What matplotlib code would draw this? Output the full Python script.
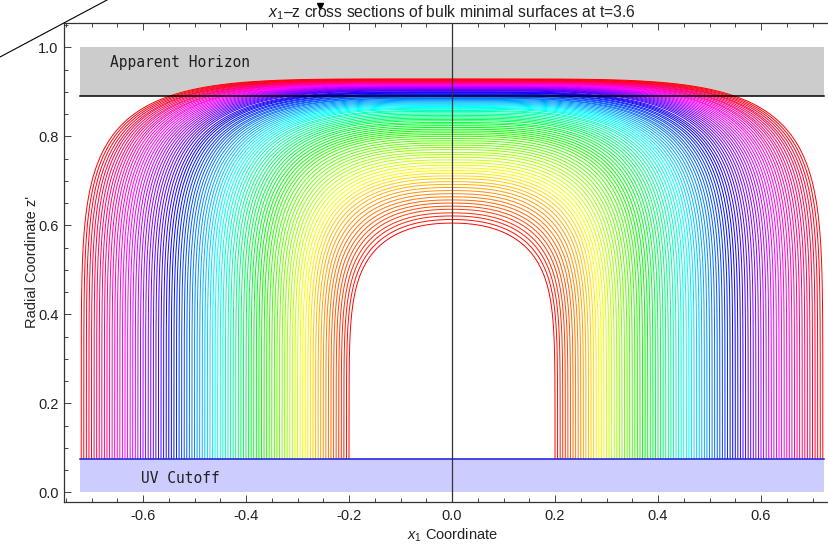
import colorsys
import numpy as np
import matplotlib
matplotlib.use("Agg")
import matplotlib.pyplot as plt
from matplotlib.ticker import MultipleLocator, FormatStrFormatter
from matplotlib.lines import Line2D

plt.rcParams["font.family"] = ["Liberation Sans", "DejaVu Sans"]
plt.rcParams["mathtext.fontset"] = "custom"
plt.rcParams["mathtext.rm"] = "Liberation Sans"
plt.rcParams["mathtext.it"] = "Liberation Sans:italic"

# Half-widths of the boundary strips (x1 extent of each surface at the cutoff)
half_widths = [
    0.200, 0.205, 0.210, 0.215, 0.220, 0.225, 0.230, 0.235, 0.240, 0.245,
    0.250, 0.255, 0.260, 0.265, 0.270, 0.275, 0.280, 0.285, 0.290, 0.295,
    0.300, 0.305, 0.310, 0.315, 0.320, 0.325, 0.330, 0.335, 0.340, 0.345,
    0.350, 0.355, 0.360, 0.365, 0.370, 0.375, 0.380, 0.385, 0.390, 0.395,
    0.400, 0.405, 0.410, 0.415, 0.420, 0.425, 0.430, 0.435, 0.440, 0.445,
    0.450, 0.455, 0.460, 0.465, 0.470, 0.475, 0.480, 0.485, 0.490, 0.495,
    0.500, 0.505, 0.510, 0.515, 0.520, 0.525, 0.530, 0.535, 0.540, 0.545,
    0.550, 0.555, 0.560, 0.565, 0.570, 0.575, 0.580, 0.585, 0.590, 0.595,
    0.600, 0.605, 0.610, 0.615, 0.620, 0.625, 0.630, 0.635, 0.640, 0.645,
    0.650, 0.655, 0.660, 0.665, 0.670, 0.675, 0.680, 0.685, 0.690, 0.695,
    0.700, 0.705, 0.710, 0.715, 0.720,
]

# Turning-point depth z'_* of each surface (value at x1 = 0)
turning_points = [
    0.605, 0.613, 0.621, 0.628, 0.636, 0.643, 0.650, 0.657, 0.664, 0.671,
    0.678, 0.685, 0.692, 0.698, 0.705, 0.711, 0.717, 0.723,
    0.729, 0.735, 0.741, 0.747, 0.753, 0.759, 0.764, 0.770, 0.775, 0.780,
    0.785, 0.790, 0.795, 0.800, 0.804, 0.808, 0.812, 0.816,
    0.820, 0.824, 0.828, 0.831, 0.835, 0.838, 0.841, 0.844, 0.847, 0.850,
    0.853, 0.856, 0.858, 0.861, 0.863, 0.865, 0.867,
    0.869, 0.871, 0.873, 0.875, 0.877, 0.879, 0.881, 0.883, 0.885, 0.886,
    0.888, 0.889, 0.891, 0.892, 0.894, 0.895, 0.897, 0.898,
    0.899, 0.900, 0.902, 0.903, 0.904, 0.905, 0.906, 0.907, 0.908, 0.909,
    0.910, 0.911, 0.912, 0.913, 0.914, 0.915, 0.916,
    0.917, 0.917, 0.918, 0.919, 0.920, 0.920, 0.921, 0.922, 0.922, 0.923,
    0.924, 0.925, 0.925, 0.926, 0.927, 0.928, 0.929,
]
assert len(half_widths) == len(turning_points)

uv_cutoff = 0.075
apparent_horizon = 0.89
region_half_width = 0.722
region_top = 1.0
region_bottom = 0.0

x_ticks = [-0.6, -0.4, -0.2, 0.0, 0.2, 0.4, 0.6]
y_ticks = [0.0, 0.2, 0.4, 0.6, 0.8, 1.0]

title = "$x_1$\u2013z cross sections of bulk minimal surfaces at t=3.6"
x_label = "$x_1$ Coordinate"
y_label = "Radial Coordinate z'"
horizon_label = "Apparent Horizon"
cutoff_label = "UV Cutoff"

fig = plt.figure(figsize=(8.29, 5.47), dpi=100)
ax = fig.add_axes([0.0772, 0.0823, 0.9228, 0.8751])
ax.set_xlim(-0.7534, 0.732)
ax.set_ylim(-0.0218, 1.054)

# Shaded regions: behind the horizon and below the cutoff
ax.fill_between([-region_half_width, region_half_width], apparent_horizon, region_top,
                color="#cccccc", lw=0, zorder=1)
ax.fill_between([-region_half_width, region_half_width], region_bottom, uv_cutoff,
                color="#ccccff", lw=0, zorder=1)

# Each minimal surface: vertical near the boundary, flattening towards its turning point
n = len(half_widths)
for i, (w, zt) in enumerate(zip(half_widths, turning_points)):
    k = 2.2 + 2.8 * i / (n - 1)
    m = 7.0
    th0 = np.arcsin((uv_cutoff / zt) ** (m / 2))
    th = np.linspace(th0, np.pi / 2, 400)
    x = w * np.clip(np.cos(th), 0, 1) ** (2 / k)
    z = zt * np.sin(th) ** (2 / m)
    xs = np.concatenate([-x, x[::-1]])
    zs = np.concatenate([z, z[::-1]])
    color = colorsys.hsv_to_rgb(i / (n - 1), 1.0, 1.0)
    ax.plot(xs, zs, color=color, lw=0.7, zorder=2, solid_capstyle="butt")

ax.plot([-region_half_width, region_half_width], [apparent_horizon] * 2,
        color="black", lw=1.1, zorder=3)
ax.plot([-region_half_width, region_half_width], [uv_cutoff] * 2,
        color="#1a1ad9", lw=1.1, zorder=3)
ax.axvline(0.0, color="#333333", lw=0.9, zorder=4)

mono = ["DejaVu Sans Mono"]
ax.text(-0.664, 0.967, horizon_label, family=mono, fontsize=10.5, color="#222222",
        va="center", ha="left", zorder=5)
ax.text(-0.604, 0.03, cutoff_label, family=mono, fontsize=10.5, color="#222222",
        va="center", ha="left", zorder=5)

# Frame styling
for side in ("left", "bottom", "top"):
    ax.spines[side].set_color("#333333")
    ax.spines[side].set_linewidth(0.9)
ax.spines["right"].set_visible(False)

ax.set_xticks(x_ticks)
ax.set_yticks(y_ticks)
ax.xaxis.set_major_formatter(FormatStrFormatter("%.1f"))
ax.yaxis.set_major_formatter(FormatStrFormatter("%.1f"))
ax.xaxis.set_minor_locator(MultipleLocator(0.05))
ax.yaxis.set_minor_locator(MultipleLocator(0.05))
ax.tick_params(which="both", direction="in", top=True, right=False,
               labeltop=False, color="#444444", width=0.7, labelsize=10.5,
               labelcolor="#222222")
ax.tick_params(which="major", length=5)
ax.tick_params(which="minor", length=3)
ax.tick_params(axis="x", pad=5)
ax.tick_params(axis="y", pad=4)

fig.text(452 / 829, 1 - 13 / 547, title, ha="center", va="center",
         fontsize=11.3, color="#222222")
fig.text(452 / 829, 1 - 535 / 547, x_label, ha="center", va="center",
         fontsize=10.5, color="#222222")
fig.text(32 / 829, 1 - 262 / 547, y_label, ha="center", va="center",
         rotation=90, fontsize=10.5, color="#222222")

# Pointer stroke and arrowhead along the top margin
fig.add_artist(Line2D([0, 107 / 829], [1 - 57 / 547, 1.0], color="black", lw=0.8))
fig.add_artist(Line2D([320 / 829], [1 - 6 / 547], marker="v", markersize=5,
                      color="black", lw=0))

fig.savefig("out.png", dpi=100)
